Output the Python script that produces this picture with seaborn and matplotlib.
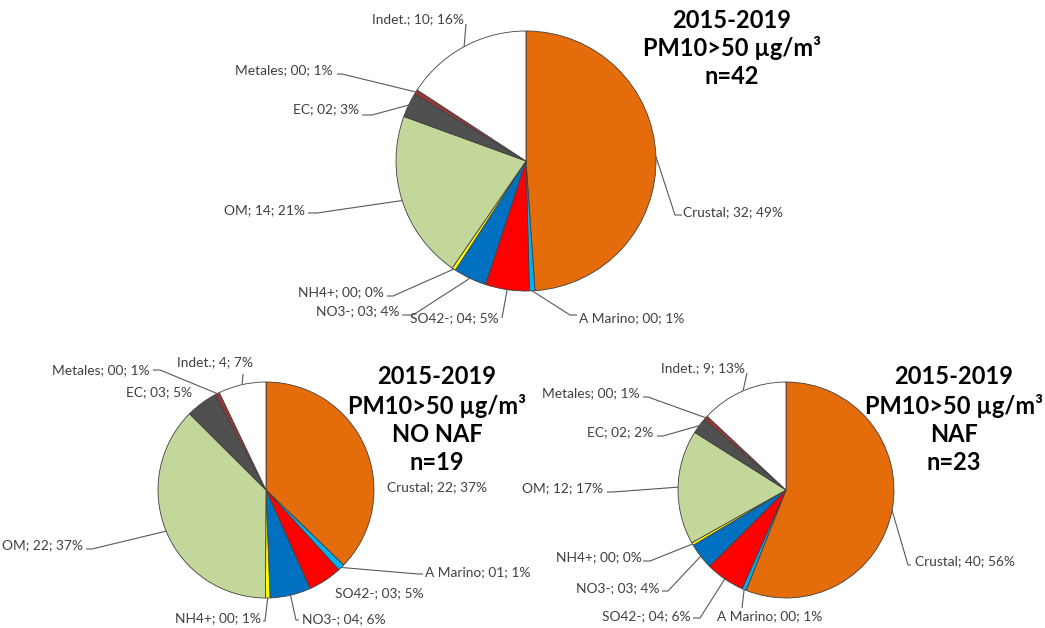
import numpy as np
import matplotlib
matplotlib.use("Agg")
import matplotlib.pyplot as plt
import seaborn as sns

# ---------------- data ----------------
categories = ["Crustal", "A Marino", "SO42-", "NO3-", "NH4+", "OM", "EC", "Metales", "Indet."]
colors = ["#E46C0A", "#00B0F0", "#FF0000", "#0070C0", "#FFFF00",
          "#C4D79B", "#505050", "#953735", "#FFFFFF"]
values_all = [32.2, 0.45, 3.6, 2.7, 0.3, 13.8, 2.0, 0.4, 10.4]
values_nonaf = [22.0, 0.6, 3.0, 3.6, 0.4, 22.1, 2.8, 0.4, 4.2]
values_naf = [40.0, 0.45, 4.2, 2.8, 0.3, 12.2, 1.7, 0.45, 9.3]

titles_all = ["2015-2019", "PM10>50 µg/m³", "n=42"]
titles_nonaf = ["2015-2019", "PM10>50 µg/m³", "NO NAF", "n=19"]
titles_naf = ["2015-2019", "PM10>50 µg/m³", "NAF", "n=23"]

# ---------------- layout (pixels, origin top-left) ----------------
W, H = 1045, 628
sns.set_theme(style="white")
plt.rcParams["font.family"] = ["Lato", "DejaVu Sans"]

fig = plt.figure(figsize=(W / 100, H / 100), dpi=100)
ax = fig.add_axes([0, 0, 1, 1])

# label layout: (text x, text y, ha, leader attach point or None, elbow dx)
layout_all = [
    (683, 212, "left", (682, 215), -7),
    (579, 318, "left", (577, 315), -7),
    (499, 318, "right", (502, 318), 0),
    (400, 311, "right", (402, 315), 11),
    (384, 292, "right", (387, 296), 6),
    (305, 210, "right", (308, 213), 9),
    (359, 109, "right", (362, 115), 10),
    (333, 70, "right", (337, 74), 5),
    (464, 19, "right", (466, 24), 0),
]
layout_nonaf = [
    (387, 487, "left", None, 0),
    (425, 572, "left", (423, 574), -5),
    (335, 593, "left", None, 0),
    (302, 619, "left", (299, 620), -3),
    (261, 618, "right", (263, 621), 2),
    (83, 545, "right", (86, 549), 6),
    (192, 392, "right", None, 0),
    (150, 370, "right", (153, 370), 7),
    (253, 362, "right", (243, 374), 0),
]
layout_naf = [
    (915, 561, "left", (911, 565), -3),
    (717, 616, "left", (742, 608), 0),
    (691, 616, "right", (693, 618), 7),
    (660, 588, "right", (662, 591), 6),
    (642, 557, "right", (643, 561), 7),
    (603, 488, "right", (607, 492), 6),
    (653, 432, "right", (657, 436), 6),
    (640, 393, "right", (643, 397), 5),
    (745, 368, "right", (747, 373), 0),
]

pies = [
    (values_all, (526, 161), 130, layout_all, titles_all, (732, 20)),
    (values_nonaf, (266, 490), 108, layout_nonaf, titles_nonaf, (437, 377)),
    (values_naf, (786, 490), 108, layout_naf, titles_naf, (954, 377)),
]

TXT = "#404040"
LINE = "#595959"


def fy(y):
    return H - y


for values, (cx, cy), R, layout, titles, (tx, ty) in pies:
    vals = np.asarray(values, dtype=float)
    total = vals.sum()
    ax.pie(vals, colors=colors, startangle=90, counterclock=False,
           center=(cx, fy(cy)), radius=R,
           wedgeprops=dict(edgecolor="#404040", linewidth=0.6))
    cum = np.cumsum(vals) - vals / 2
    for i, cat in enumerate(categories):
        v = vals[i]
        pct = 100 * v / total
        if cat == "Indet.":
            lab = f"{cat}; {v:.0f}; {pct:.0f}%"
        else:
            lab = f"{cat}; {v:02.0f}; {pct:.0f}%"
        x, y, ha, attach, dx = layout[i]
        ax.text(x, fy(y), lab, ha=ha, va="center", fontsize=9.9, color=TXT)
        if attach is not None:
            th = np.deg2rad(90 - 360 * cum[i] / total)
            ex, ey = cx + R * np.cos(th), cy - R * np.sin(th)
            ax0, ay0 = attach
            xs = [ax0, ax0 + dx, ex]
            ys = [fy(ay0), fy(ay0), fy(ey)]
            ax.plot(xs, ys, color=LINE, lw=0.8, solid_capstyle="butt")
    for k, line in enumerate(titles):
        ax.text(tx, fy(ty + k * 28.5), line, ha="center", va="center",
                fontsize=17, fontweight="bold", color="black")

ax.set_xlim(0, W)
ax.set_ylim(0, H)
ax.set_aspect("equal", adjustable="box")
ax.axis("off")
fig.savefig("out.png", dpi=100, facecolor="white")
